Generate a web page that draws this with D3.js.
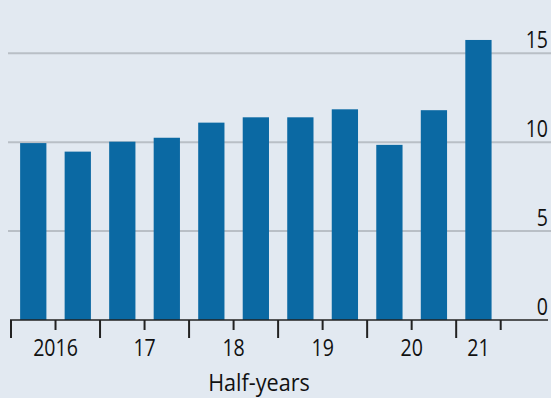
<!DOCTYPE html>
<html>
<head>
<meta charset="utf-8">
<script src="https://cdn.jsdelivr.net/npm/d3@7"></script>
<style>
  html, body { margin: 0; padding: 0; background: #e2e9f1; }
  svg { display: block; }
  text { font-family: "Open Sans", sans-serif; fill: #111; }
</style>
</head>
<body>
<script>
// Data
const halfYears = ["2016H1","2016H2","2017H1","2017H2","2018H1","2018H2","2019H1","2019H2","2020H1","2020H2","2021H1"];
const values    = [9.95, 9.47, 10.03, 10.25, 11.1, 11.4, 11.4, 11.85, 9.85, 11.8, 15.75];
const years      = ["2016","2017","2018","2019","2020","2021"];
const yearLabels = ["2016","17","18","19","20","21"];
const yTicks     = [0, 5, 10, 15];
const xTitle     = "Half-years";

const W = 551, H = 398;
const svg = d3.select("body").append("svg").attr("width", W).attr("height", H);
svg.append("rect").attr("width", W).attr("height", H).attr("fill", "#e2e9f1");

const x = d3.scaleBand().domain(halfYears).range([11, 500.7]).paddingInner(0.41).paddingOuter(0.205);
const y = d3.scaleLinear().domain([0, 15]).range([320, 53.3]);
const gap = (x.step() - x.bandwidth()) / 2;
const bStart = d => x(d) - gap;
const SX = 0.85;

// gridlines
svg.append("g").selectAll("line").data(yTicks.filter(t => t > 0)).join("line")
  .attr("x1", 8).attr("x2", W).attr("y1", d => y(d)).attr("y2", d => y(d))
  .attr("stroke", "#b9bfc6").attr("stroke-width", 2);

// bars
svg.append("g").selectAll("rect").data(values).join("rect")
  .attr("x", (d, i) => x(halfYears[i]))
  .attr("width", x.bandwidth())
  .attr("y", d => y(d))
  .attr("height", d => y(0) - y(d))
  .attr("fill", "#0b69a3");

// y labels
svg.append("g").selectAll("text").data(yTicks).join("text")
  .attr("transform", d => `translate(548,${y(d) - 5}) scale(${SX},1)`)
  .attr("text-anchor", "end").attr("font-size", 23)
  .text(d => d);

// baseline
svg.append("line").attr("x1", 10).attr("x2", 548).attr("y1", y(0)).attr("y2", y(0))
  .attr("stroke", "#222").attr("stroke-width", 1.6);

// ticks
const tickData = halfYears.map(d => ({ pos: bStart(d), major: d.endsWith("H1") }));
tickData.push({ pos: bStart(halfYears[halfYears.length - 1]) + x.step(), major: false });
svg.append("g").selectAll("line").data(tickData).join("line")
  .attr("x1", d => d.pos).attr("x2", d => d.pos)
  .attr("y1", y(0)).attr("y2", d => y(0) + (d.major ? 18 : 10))
  .attr("stroke", "#222").attr("stroke-width", 2);

// year labels
svg.append("g").selectAll("text").data(years).join("text")
  .attr("transform", yr => {
    const hs = halfYears.filter(h => h.startsWith(yr));
    const a = bStart(hs[0]);
    const b = bStart(hs[hs.length - 1]) + x.step();
    return `translate(${(a + b) / 2},355.5) scale(${SX},1)`;
  })
  .attr("text-anchor", "middle").attr("font-size", 23)
  .text((d, i) => yearLabels[i]);

// x title
svg.append("text").attr("transform", "translate(259,390.5) scale(0.9,1)")
  .attr("text-anchor", "middle").attr("font-size", 24)
  .text(xTitle);
</script>
</body>
</html>
